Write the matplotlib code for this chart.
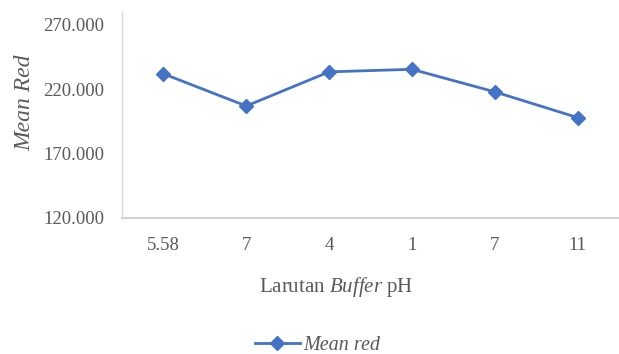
import matplotlib
matplotlib.use("Agg")
import matplotlib.pyplot as plt
from matplotlib.lines import Line2D

plt.rcParams.update({
    "font.family": "serif",
    "font.serif": ["Liberation Serif", "DejaVu Serif"],
    "mathtext.fontset": "custom",
    "mathtext.rm": "Liberation Serif",
    "mathtext.it": "Liberation Serif:italic",
    "mathtext.bf": "Liberation Serif:bold",
})

ph_labels = ["5.58", "7", "4", "1", "7", "11"]
mean_red = [232.0, 207.0, 233.5, 235.5, 218.0, 198.0]
y_ticks = [120, 170, 220, 270]

TEXT = "#595959"
BLUE = "#4472C4"

fig = plt.figure(figsize=(6.19, 3.54), dpi=100)
ax = fig.add_axes([122 / 619, 136 / 354, 497 / 619, 206 / 354])

x = list(range(len(ph_labels)))
ax.plot(x, mean_red, color=BLUE, linewidth=2.0, marker="D", markersize=7,
        markerfacecolor=BLUE, markeredgecolor=BLUE)

ax.set_xlim(-0.5, len(ph_labels) - 0.5)
ax.set_ylim(120, 280)
ax.set_yticks(y_ticks)
ax.set_yticklabels([f"{v:.3f}" for v in y_ticks])
ax.set_xticks(x)
ax.set_xticklabels(ph_labels)
ax.tick_params(axis="both", length=0, labelsize=13.5, colors=TEXT)
ax.tick_params(axis="y", pad=13)
ax.tick_params(axis="x", pad=14)

for side in ("top", "right"):
    ax.spines[side].set_visible(False)
ax.spines["left"].set_color("#d9d9d9")
ax.spines["bottom"].set_color("#c8c8c8")
ax.spines["left"].set_linewidth(1.0)
ax.spines["bottom"].set_linewidth(1.2)

fig.text(336 / 619, 1 - 287 / 354, r"Larutan $\mathit{Buffer}$ pH",
         ha="center", va="center", fontsize=15, color=TEXT)
fig.text(25 / 619, 1 - 103 / 354, "Mean Red", rotation=90, style="italic",
         ha="center", va="center", fontsize=17, color=TEXT)

# legend under the x-axis title
handle = Line2D([], [], color=BLUE, linewidth=2.0, marker="D", markersize=7)
leg = fig.legend([handle], ["Mean red"], loc="center", bbox_to_anchor=(318 / 619, 1 - 345 / 354),
                 frameon=False, handlelength=2.2, handletextpad=0.2, borderpad=0.1,
                 prop={"style": "italic", "size": 14.5})
for t in leg.get_texts():
    t.set_color(TEXT)

fig.savefig("out.png", dpi=100)
